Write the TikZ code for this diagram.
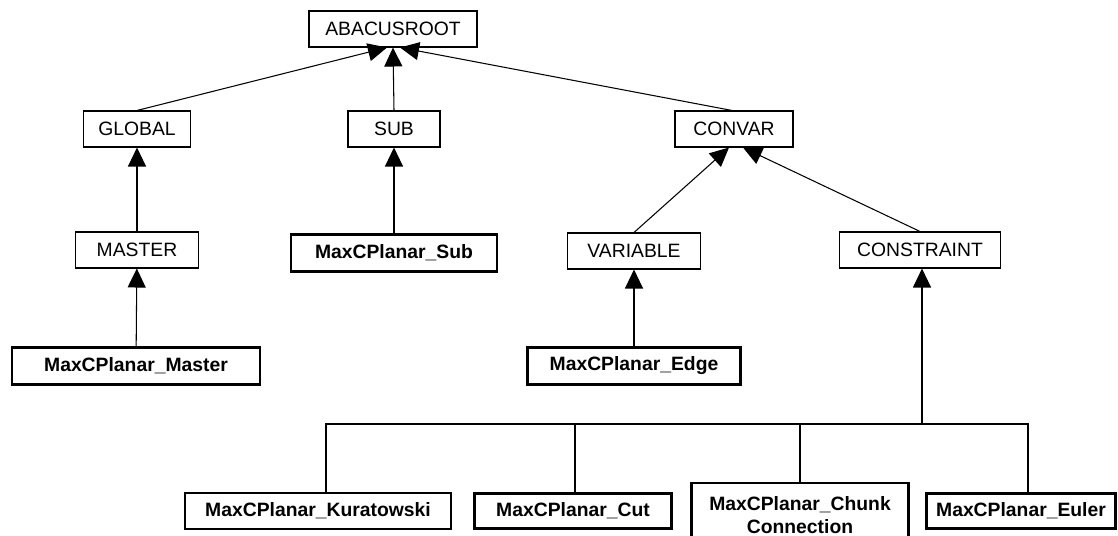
\documentclass[tikz,border=0pt]{standalone}
\usepackage{fontspec}
\setmainfont{Liberation Sans}
\usetikzlibrary{arrows.meta}

\begin{document}
\begin{tikzpicture}[x=0.02cm, y=-0.02cm,
    cls/.style={draw, line width=0.6pt, inner sep=0pt, minimum height=0.72cm, font=\fontsize{11}{13}\selectfont},
    impl/.style={cls, line width=1.3pt, font=\fontsize{11}{13}\selectfont\bfseries},
    isa/.style={line width=0.6pt, -{Triangle[width=0.36cm, length=0.38cm]}}]
            \useasboundingbox (0,0) rectangle (1118,536);

            % ABACUS 基类
            \node[cls, minimum width=3.36cm] (root) at (393,29) {ABACUSROOT};
            \node[cls, minimum width=2.14cm] (global) at (137,129) {GLOBAL};
            \node[cls, minimum width=1.84cm] (sub) at (394,129) {SUB};
            \node[cls, minimum width=2.36cm] (convar) at (734,129) {CONVAR};
            \node[cls, minimum width=2.46cm] (master) at (137,250) {MASTER};
            \node[cls, minimum width=2.66cm] (variable) at (634,251) {VARIABLE};
            \node[cls, minimum width=3.22cm] (constraint) at (920,250) {CONSTRAINT};

            % 自己的类
            \node[impl, minimum width=4.12cm, minimum height=0.74cm] (maxsub) at (394,253) {MaxCPlanar\_Sub};
            \node[impl, minimum width=4.96cm, minimum height=0.74cm] (maxmaster) at (136,366) {MaxCPlanar\_Master};
            \node[impl, minimum width=4.26cm, minimum height=0.74cm] (maxedge) at (634,366) {MaxCPlanar\_Edge};
            \node[impl, minimum width=5.32cm] (kura) at (318,511) {MaxCPlanar\_Kuratowski};
            \node[impl, minimum width=3.94cm, minimum height=0.70cm] (cut) at (573,511) {MaxCPlanar\_Cut};
            \node[impl, minimum width=4.34cm, minimum height=1.28cm, align=center] (chunk) at (800,515) {MaxCPlanar\_Chunk\\Connection};
            \node[impl, minimum width=3.78cm, minimum height=0.70cm] (euler) at (1021,511) {MaxCPlanar\_Euler};

            % 继承关系
            \draw[isa] (global.north) -- ([xshift=-0.12cm]root.south);
            \draw[isa] (sub.north) -- (root.south);
            \draw[isa] ([xshift=-0.04cm]convar.north) -- ([xshift=0.14cm]root.south);
            \draw[isa] (master) -- (global);
            \draw[isa] (maxmaster) -- (master);
            \draw[isa] (maxsub) -- (sub);
            \draw[isa] (variable.north) -- ([xshift=-0.1cm]convar.south);
            \draw[isa] (constraint.north) -- ([xshift=0.18cm]convar.south);
            \draw[isa] (maxedge) -- (variable);

            % 约束的子类
            \coordinate (bus) at (922,424);
            \draw[isa] (bus) -- (bus |- constraint.south);
            \draw[line width=0.6pt] ([xshift=0.16cm]kura.north) |- (bus) -| ([xshift=0.14cm]euler.north);
            \draw[line width=0.6pt] ([xshift=0.04cm]cut.north) -- ([xshift=0.04cm]cut.north |- bus);
            \draw[line width=0.6pt] (chunk.north) -- (chunk.north |- bus);

        \end{tikzpicture}
\end{document}
